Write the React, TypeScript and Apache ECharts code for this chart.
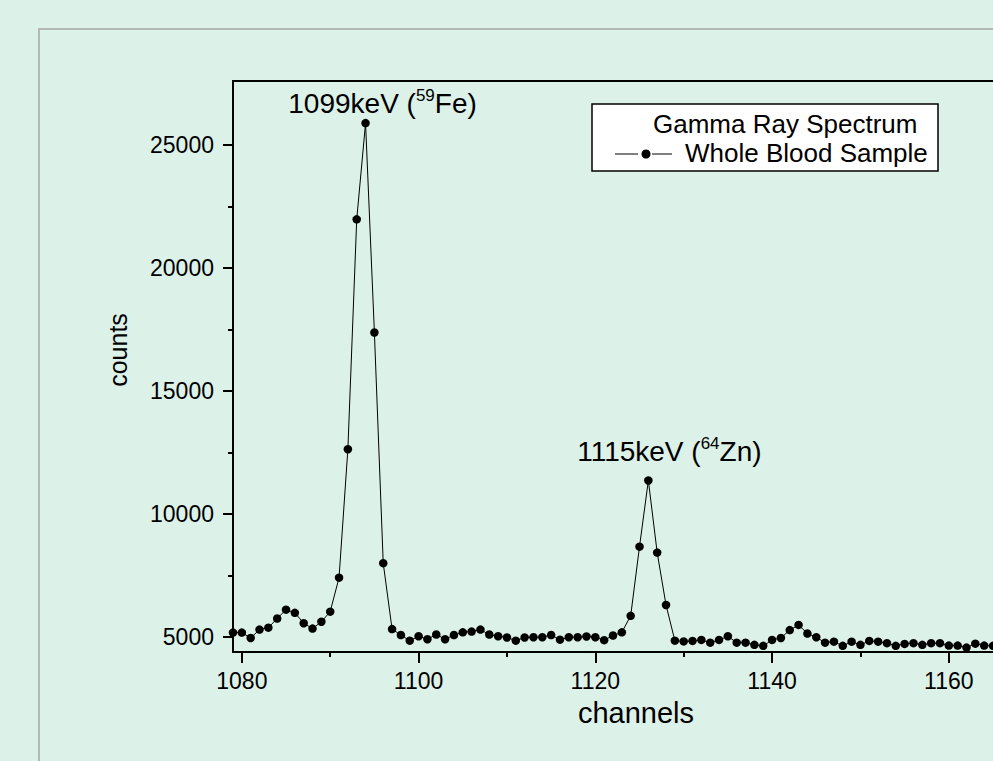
import React, { useEffect, useRef } from "react";
import * as echarts from "echarts";

const channels = [
  1079, 1080, 1081, 1082, 1083, 1084, 1085, 1086, 1087, 1088, 1089, 1090,
  1091, 1092, 1093, 1094, 1095, 1096, 1097, 1098, 1099, 1100, 1101, 1102,
  1103, 1104, 1105, 1106, 1107, 1108, 1109, 1110, 1111, 1112, 1113, 1114,
  1115, 1116, 1117, 1118, 1119, 1120, 1121, 1122, 1123, 1124, 1125, 1126,
  1127, 1128, 1129, 1130, 1131, 1132, 1133, 1134, 1135, 1136, 1137, 1138,
  1139, 1140, 1141, 1142, 1143, 1144, 1145, 1146, 1147, 1148, 1149, 1150,
  1151, 1152, 1153, 1154, 1155, 1156, 1157, 1158, 1159, 1160, 1161, 1162,
  1163, 1164, 1165,
];

const counts = [
  5190, 5190, 4970, 5310, 5390, 5760, 6120, 5990, 5570, 5350, 5630, 6040,
  7420, 12640, 21980, 25890, 17380, 8010, 5330, 5090, 4860, 5040, 4920, 5110,
  4920, 5090, 5200, 5230, 5310, 5110, 5040, 4990, 4860, 4990, 5000, 5000,
  5090, 4900, 5000, 5000, 5030, 5000, 4880, 5070, 5200, 5870, 8680, 11370,
  8440, 6310, 4860, 4830, 4850, 4890, 4780, 4890, 5040, 4780, 4780, 4690,
  4650, 4890, 4970, 5290, 5500, 5150, 5000, 4780, 4820, 4650, 4820, 4690,
  4850, 4820, 4760, 4650, 4730, 4760, 4690, 4760, 4760, 4660, 4660, 4580,
  4740, 4660, 4650,
];

const xMajorTicks = [1080, 1100, 1120, 1140, 1160];
const xMinorTicks = [1090, 1110, 1130, 1150];
const yMajorTicks = [5000, 10000, 15000, 20000, 25000];
const yMinorTicks = [7500, 12500, 17500, 22500];

const peakChannels = [1094, 1126];
const peakEnergies = ["1099keV (", "1115keV ("];
const peakIsotopeMass = ["59", "64"];
const peakElements = ["Fe)", "Zn)"];

const legendTitle = "Gamma Ray Spectrum";
const seriesName = "Whole Blood Sample";

const FONT = "'Liberation Sans', Arial, Helvetica, sans-serif";

export default function App() {
  const ref = useRef<HTMLDivElement>(null);

  useEffect(() => {
    if (!ref.current) return;
    const chart = echarts.init(ref.current, undefined, { renderer: "svg" });
    const X_MIN = 1079;
    const X_MAX = 1165;
    const Y_MIN = 4400;
    const Y_MAX = 27600;

    const labelOffsets = [
      [17, -20],
      [21, -29],
    ];
    const plain = (v: number) => String(v);

    const option: any = {
      animation: false,
      backgroundColor: "#dcf1e8",
      grid: {
        left: 233,
        top: 81,
        width: 760,
        height: 571,
        containLabel: false,
        outerBoundsMode: "none",
      },
      xAxis: [
        {
          type: "value",
          min: X_MIN,
          max: X_MAX,
          position: "bottom",
          axisLine: { show: true, lineStyle: { color: "#000", width: 2 } },
          axisTick: {
            show: true,
            customValues: xMajorTicks,
            length: 11,
            lineStyle: { color: "#000", width: 2 },
          },
          axisLabel: {
            show: true,
            customValues: xMajorTicks,
            formatter: plain,
            margin: 17,
            color: "#000",
            fontSize: 23,
            fontFamily: FONT,
          },
          splitLine: { show: false },
        },
        {
          type: "value",
          min: X_MIN,
          max: X_MAX,
          position: "bottom",
          gridIndex: 0,
          axisLine: { show: false },
          axisTick: {
            show: true,
            customValues: xMinorTicks,
            length: 5,
            lineStyle: { color: "#000", width: 2 },
          },
          axisLabel: { show: false },
          splitLine: { show: false },
        },
        {
          type: "value",
          min: X_MIN,
          max: X_MAX,
          position: "top",
          gridIndex: 0,
          axisLine: { show: true, lineStyle: { color: "#000", width: 2 } },
          axisTick: { show: false },
          axisLabel: { show: false },
          splitLine: { show: false },
        },
      ],
      yAxis: [
        {
          type: "value",
          min: Y_MIN,
          max: Y_MAX,
          position: "left",
          axisLine: { show: true, lineStyle: { color: "#000", width: 2 } },
          axisTick: {
            show: true,
            customValues: yMajorTicks,
            length: 10,
            lineStyle: { color: "#000", width: 2 },
          },
          axisLabel: {
            show: true,
            customValues: yMajorTicks,
            formatter: plain,
            margin: 19,
            color: "#000",
            fontSize: 23,
            fontFamily: FONT,
          },
          splitLine: { show: false },
        },
        {
          type: "value",
          min: Y_MIN,
          max: Y_MAX,
          position: "left",
          gridIndex: 0,
          offset: 0,
          axisLine: { show: false },
          axisTick: {
            show: true,
            customValues: yMinorTicks,
            length: 5,
            lineStyle: { color: "#000", width: 2 },
          },
          axisLabel: { show: false },
          splitLine: { show: false },
        },
      ],
      series: [
        {
          type: "line",
          name: seriesName,
          xAxisIndex: 0,
          yAxisIndex: 0,
          data: channels.map((c, i) => [c, counts[i]]),
          symbol: "circle",
          symbolSize: 8.5,
          showAllSymbol: true,
          itemStyle: { color: "#000" },
          lineStyle: { color: "#000", width: 1 },
          markPoint: {
            symbol: "circle",
            symbolSize: 1,
            silent: true,
            itemStyle: { color: "rgba(0,0,0,0)" },
            label: {
              show: true,
              position: "inside",
              color: "#000",
              rich: {
                a: { fontSize: 28, fontFamily: FONT, color: "#000", lineHeight: 32 },
                s: {
                  fontSize: 17,
                  fontFamily: FONT,
                  color: "#000",
                  lineHeight: 17,
                  verticalAlign: "top",
                },
              },
            },
            data: peakChannels.map((ch, i) => ({
              coord: [ch, counts[channels.indexOf(ch)]],
              label: {
                offset: labelOffsets[i],
                formatter:
                  "{a|" + peakEnergies[i] + "}{s|" + peakIsotopeMass[i] + "}{a|" + peakElements[i] + "}",
              },
            })),
          },
        },
      ],
      graphic: [
        {
          type: "rect",
          z: 1,
          silent: true,
          shape: { x: 39, y: 29, width: 1100, height: 900 },
          style: { fill: "none", stroke: "#b3b9b5", lineWidth: 2 },
        },
        {
          type: "text",
          x: 118,
          y: 350,
          rotation: Math.PI / 2,
          style: {
            text: "counts",
            fontSize: 25,
            fontFamily: FONT,
            fill: "#000",
            align: "center",
            verticalAlign: "middle",
          },
        },
        {
          type: "text",
          x: 636,
          y: 713,
          style: {
            text: "channels",
            fontSize: 29,
            fontFamily: FONT,
            fill: "#000",
            align: "center",
            verticalAlign: "middle",
          },
        },
        {
          type: "group",
          z: 100,
          children: [
            {
              type: "rect",
              shape: { x: 592, y: 104, width: 346, height: 67 },
              style: { fill: "#ffffff", stroke: "#000", lineWidth: 1.5 },
            },
            {
              type: "text",
              x: 653,
              y: 124,
              style: {
                text: legendTitle,
                fontSize: 26,
                fontFamily: FONT,
                fill: "#000",
                align: "left",
                verticalAlign: "middle",
              },
            },
            {
              type: "line",
              shape: { x1: 615, y1: 154, x2: 638, y2: 154 },
              style: { stroke: "#000", lineWidth: 1 },
            },
            {
              type: "line",
              shape: { x1: 652, y1: 154, x2: 672, y2: 154 },
              style: { stroke: "#000", lineWidth: 1 },
            },
            {
              type: "circle",
              shape: { cx: 646, cy: 154, r: 4.5 },
              style: { fill: "#000" },
            },
            {
              type: "text",
              x: 685,
              y: 153,
              style: {
                text: seriesName,
                fontSize: 26,
                fontFamily: FONT,
                fill: "#000",
                align: "left",
                verticalAlign: "middle",
              },
            },
          ],
        },
      ],
    };

    chart.setOption(option);
    return () => {
      chart.dispose();
    };
  }, []);

  return (
    <div
      ref={ref}
      style={{ position: "fixed", left: 0, top: 0, width: 993, height: 761 }}
    />
  );
}
